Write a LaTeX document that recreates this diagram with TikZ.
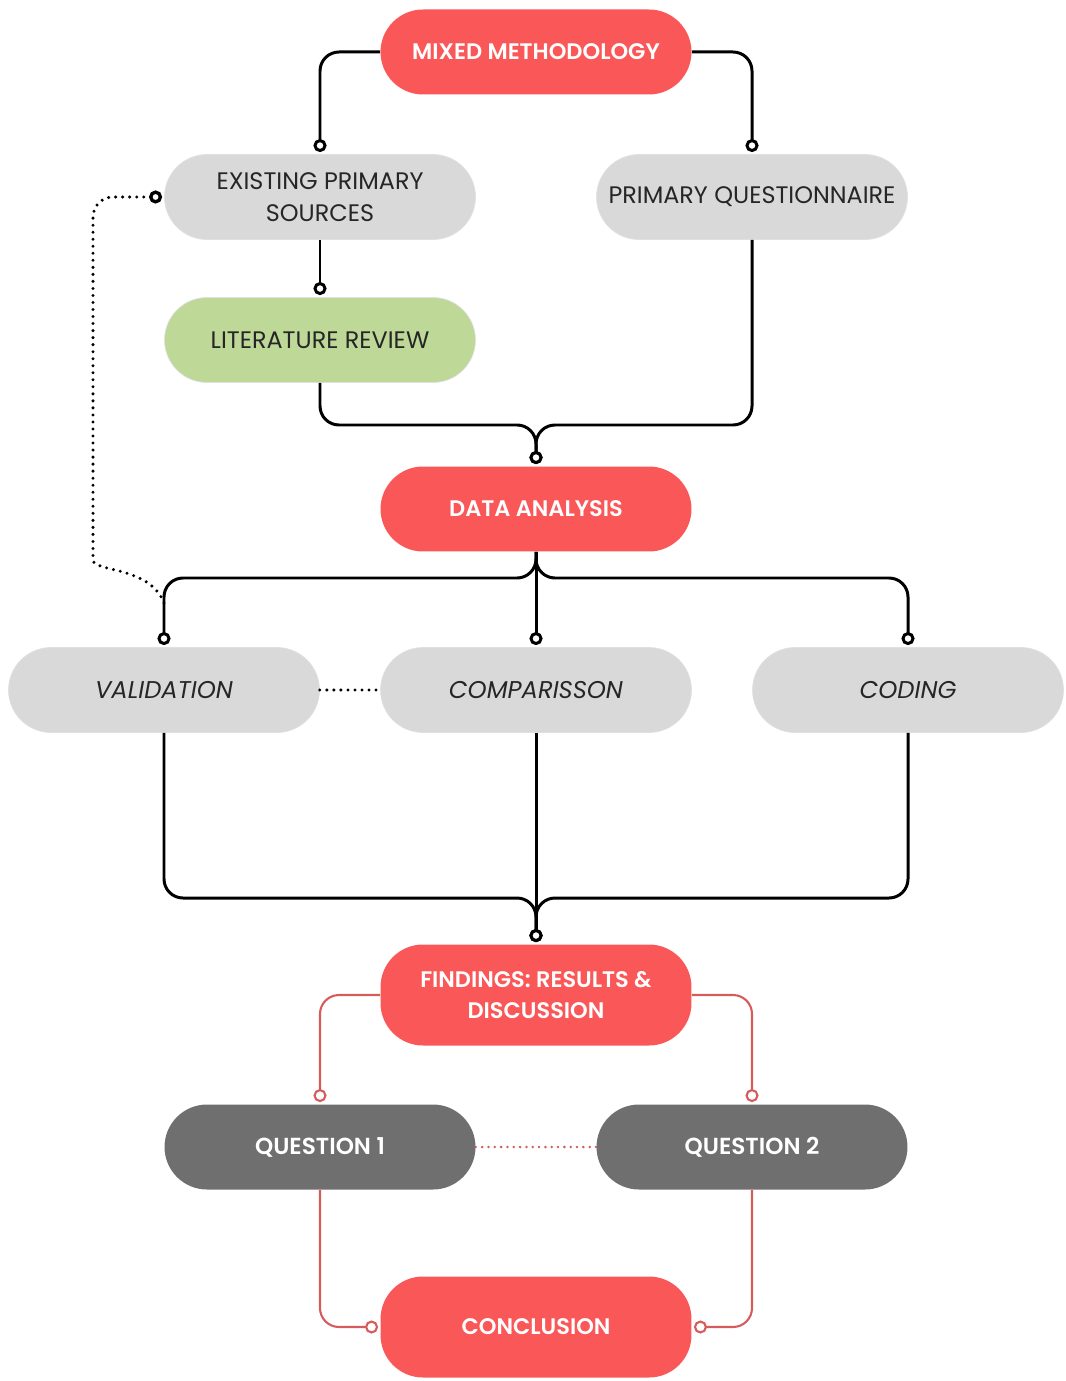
\documentclass[tikz,border=0pt]{standalone}
\usepackage{fontspec}
\setmainfont{Poppins}
\newfontfamily\medfont{Poppins SemiBold}
\usetikzlibrary{arrows.meta, calc}
\definecolor{pillred}{RGB}{250, 88, 88}
\definecolor{pillgrey}{RGB}{217, 217, 217}
\definecolor{pillgreen}{RGB}{190, 216, 152}
\definecolor{pilldark}{RGB}{111, 111, 111}
\definecolor{linkred}{RGB}{214, 92, 92}
\definecolor{inkgrey}{RGB}{38, 38, 38}

\tikzset{
    pill/.style={rectangle, rounded corners=0.85cm, minimum width=6.22cm,
        minimum height=1.7cm, align=center, inner sep=0pt},
    redpill/.style={pill, fill=pillred, text=white,
        font=\medfont\fontsize{12.8}{18}\selectfont},
    greypill/.style={pill, fill=pillgrey, draw=black!12, line width=0.4pt,
        text=inkgrey, font=\fontsize{13.6}{18}\selectfont},
    slantpill/.style={greypill, font=\itshape\fontsize{13.8}{18}\selectfont},
    greenpill/.style={greypill, fill=pillgreen},
    darkpill/.style={pill, fill=pilldark, text=white,
        font=\medfont\fontsize{13.2}{18}\selectfont},
    link/.style={draw=black, line width=1.7pt, rounded corners=0.38cm},
    redlink/.style={draw=linkred, line width=1.2pt, rounded corners=0.38cm},
    endcap/.style={-{Circle[open, fill=white, length=2.6mm, width=2.6mm]},
        shorten >=1.2pt},
    startcap/.style={{Circle[open, fill=white, length=2.6mm, width=2.6mm]}-,
        shorten <=1.2pt},
    dotlink/.style={draw=black, line width=1.9pt, line cap=round,
        dash pattern=on 0pt off 4pt},
    reddotlink/.style={draw=linkred, line width=1.6pt, line cap=round,
        dash pattern=on 0pt off 3.6pt}
}

\begin{document}
\begin{tikzpicture}[x=0.02cm, y=-0.02cm]
    \useasboundingbox (0,0) rectangle (1065,1381);

    % Pills
    \node[redpill] (mixed) at (536,52) {MIXED METHODOLOGY};
    \node[greypill] (exist) at (320,197) {EXISTING PRIMARY\\SOURCES};
    \node[greypill] (quest) at (752,197) {PRIMARY QUESTIONNAIRE};
    \node[greenpill] (lit) at (320,340) {LITERATURE REVIEW};
    \node[redpill] (data) at (536,509) {DATA ANALYSIS};
    \node[slantpill] (valid) at (164,690) {VALIDATION};
    \node[slantpill] (comp) at (536,690) {COMPARISSON};
    \node[slantpill] (coding) at (908,690) {CODING};
    \node[redpill, minimum height=2.02cm] (find) at (536,995) {FINDINGS: RESULTS \&\\DISCUSSION};
    \node[darkpill] (qone) at (320,1147) {QUESTION 1};
    \node[darkpill] (qtwo) at (752,1147) {QUESTION 2};
    \node[redpill, minimum height=2.02cm] (concl) at (536,1327) {CONCLUSION};

    % Junction points
    \coordinate (mergeA) at (536,425);
    \coordinate (splitA) at (536,578);
    \coordinate (mergeB) at (536,898);
    \coordinate (tapV) at (164,603);

    % Methodology branches
    \draw[link, endcap] (mixed.west) -| (exist.north);
    \draw[link, endcap] (mixed.east) -| (quest.north);
    \draw[link, endcap] (exist.south) -- (lit.north);

    % Into data analysis
    \draw[link, endcap] (lit.south) |- (mergeA) -- (data.north);
    \draw[link, endcap] (quest.south) |- (mergeA) -- (data.north);

    % Out of data analysis
    \draw[link, endcap] (data.south) -- (splitA) -| (valid.north);
    \draw[link, endcap] (data.south) -- (comp.north);
    \draw[link, endcap] (data.south) -- (splitA) -| (coding.north);

    % Dotted relations
    \draw[dotlink, startcap, rounded corners=0.4cm]
        (exist.west) -| (93,540) .. controls (93,572) and (150,566) .. (tapV);
    \draw[dotlink] (valid.east) -- (comp.west);

    % Into findings
    \draw[link, endcap] (valid.south) |- (mergeB) -- (find.north);
    \draw[link, endcap] (coding.south) |- (mergeB) -- (find.north);
    \draw[link, endcap] (comp.south) -- (find.north);

    % Questions and conclusion
    \draw[redlink, endcap] (find.west) -| (qone.north);
    \draw[redlink, endcap] (find.east) -| (qtwo.north);
    \draw[reddotlink] (qone.east) -- (qtwo.west);
    \draw[redlink, endcap] (qone.south) |- (concl.west);
    \draw[redlink, endcap] (qtwo.south) |- (concl.east);
\end{tikzpicture}
\end{document}
